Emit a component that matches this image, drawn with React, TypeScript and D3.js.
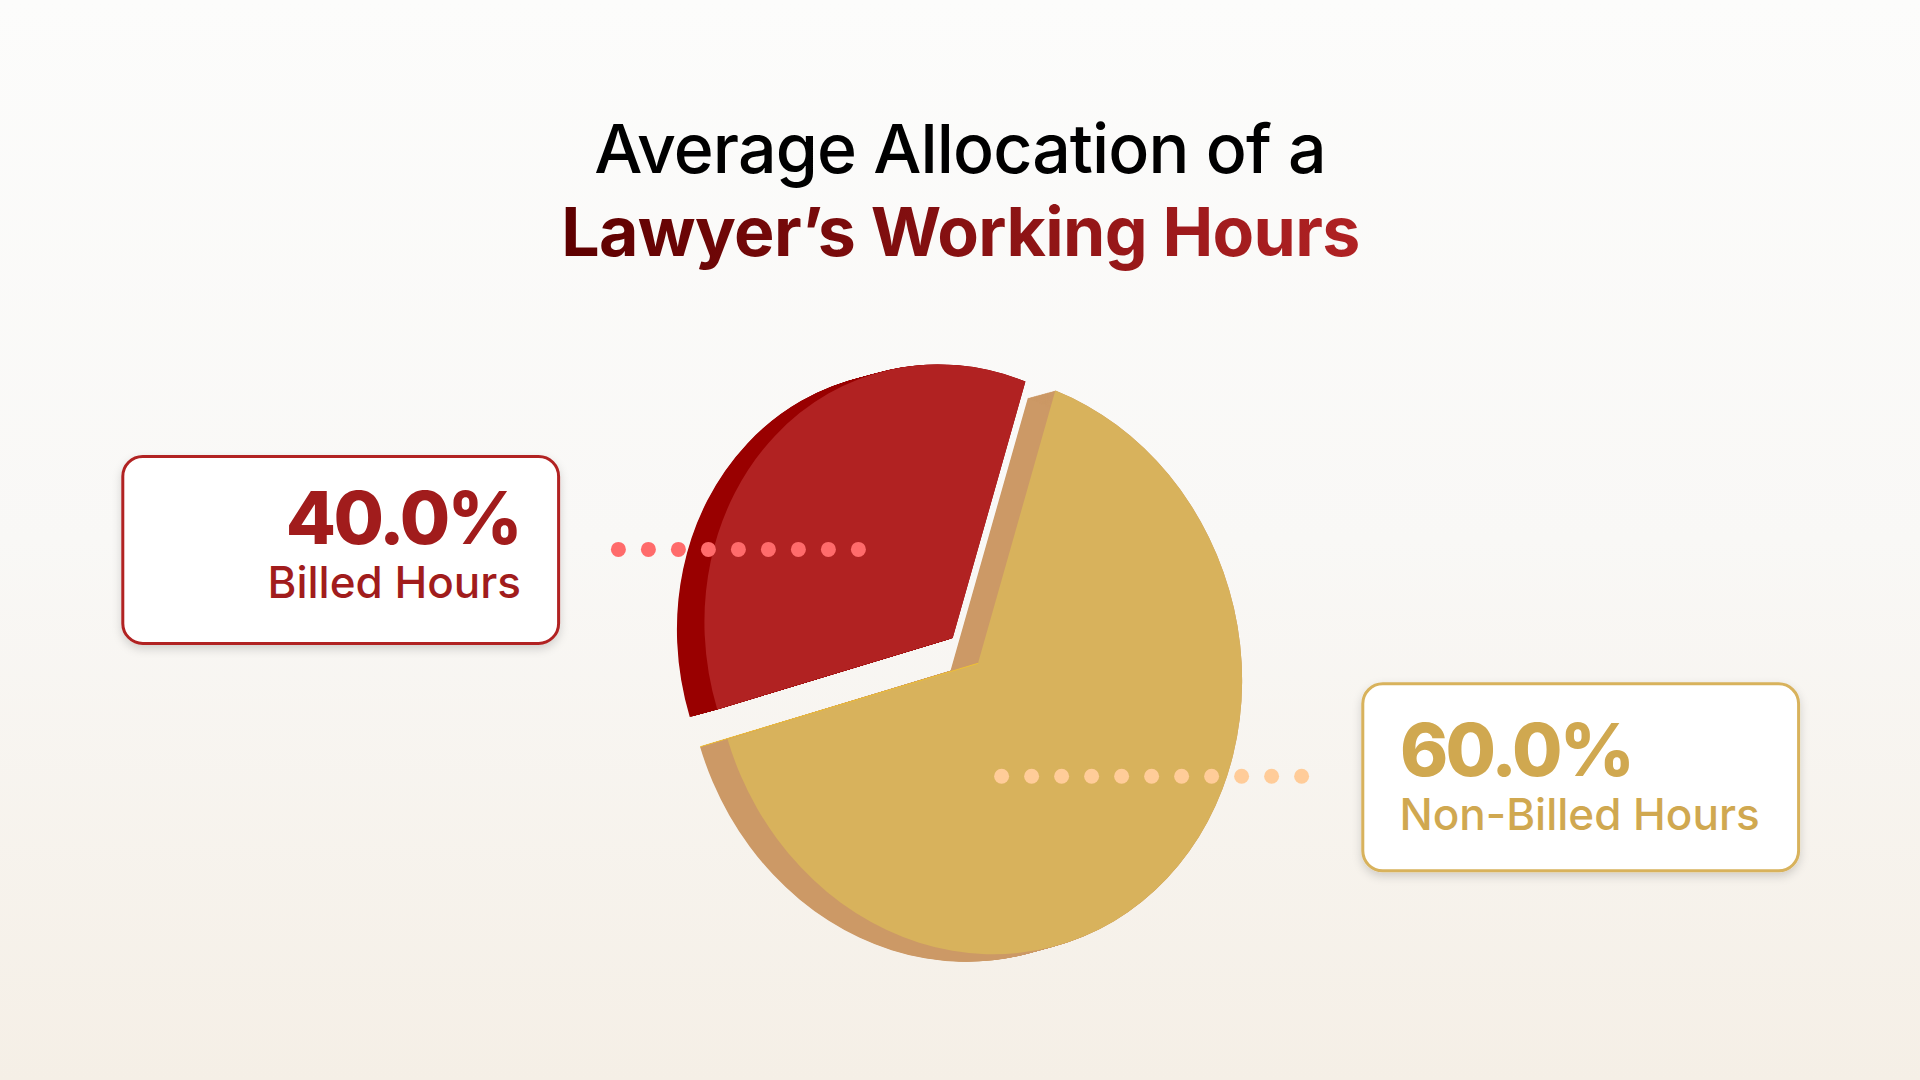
import * as d3 from 'd3';

const categories = ['Billed Hours', 'Non-Billed Hours'];
const shares = [40, 60];
const shareLabels = ['40.0%', '60.0%'];
const topColors = ['#b12222', '#d8b25c'];
const sideColors = ['#990000', '#cc9966'];
const dotColors = ['#ff6b6b', '#ffcc99'];
const dotCounts = [9, 11];
const textColors = ['#a11c1c', '#d0a850'];
const borderColors = ['#b12222', '#d8b25c'];

const width = 1920;
const height = 1080;

// the pie is tilted, so a unit circle goes through this matrix
const R = 100;
const tilt = [264 / R, 8.15 / R, 8.15 / R, 290.9 / R];
const goldCenter = [978, 663.3];
const redCenter = [952.7, 638];
const centers = [redCenter, goldCenter];
const sliceScale = [0.94, 1];
const depth = [-27.5, 7.5];
const depthSteps = d3.range(0, 1.001, 1 / 40);

// slices look narrower/wider than their share because of the tilt
const deg = (d: number) => (d * Math.PI) / 180;

export default function App() {
  const arcs = d3.pie<number>().sort(null)(shares);
  const angle = d3
    .scaleLinear()
    .domain([0, arcs[0].endAngle, 2 * Math.PI])
    .range([deg(-106.74), deg(18.8), deg(253.26)]);

  const slicePath = (i: number) =>
    d3.arc<any>()({
      innerRadius: 0,
      outerRadius: R * sliceScale[i],
      startAngle: angle(arcs[i].startAngle),
      endAngle: angle(arcs[i].endAngle),
    }) as string;

  const matrix = (i: number, dx = 0, dy = 0) =>
    `matrix(${tilt.join(' ')} ${centers[i][0] + dx} ${centers[i][1] + dy})`;

  // side wall: the slice swept along the depth vector
  const side = (i: number) =>
    depthSteps.map((t) => (
      <path
        key={t}
        d={slicePath(i)}
        transform={matrix(i, depth[0] * t, depth[1] * t)}
        fill={sideColors[i]}
      />
    ));

  // end of the gold radius, for the thin bright seam along that edge
  const seamAngle = angle(arcs[1].endAngle);
  const seamX = R * Math.sin(seamAngle);
  const seamY = -R * Math.cos(seamAngle);
  const seamEnd = [
    goldCenter[0] + tilt[0] * seamX + tilt[2] * seamY + depth[0],
    goldCenter[1] + tilt[1] * seamX + tilt[3] * seamY + depth[1],
  ];

  const dotX = [
    d3.scaleLinear().domain([0, 1]).range([618.4, 648.4]),
    d3.scaleLinear().domain([0, 1]).range([1001.6, 1031.6]),
  ];
  const dotY = [549.4, 776.3];

  const cards = [
    { x: 122.8, y: 456.4, textX: 521, anchor: 'end', bigY: 544, smallY: 597.5, bigX: 520 },
    { x: 1362.8, y: 683.8, textX: 1399.5, anchor: 'start', bigY: 776, smallY: 830, bigX: 1400 },
  ];

  return (
    <svg
      width={width}
      height={height}
      style={{ position: 'absolute', left: 0, top: 0, fontFamily: 'Inter' }}
    >
      <defs>
        <linearGradient id="bg" x1="0" x2="0" y1="0" y2="1">
          <stop offset="0" stopColor="#fcfcfb" />
          <stop offset="0.5" stopColor="#f9f8f6" />
          <stop offset="1" stopColor="#f5efe6" />
        </linearGradient>
        <linearGradient id="titleFill" gradientUnits="userSpaceOnUse" x1="564" x2="1360" y1="0" y2="0">
          <stop offset="0" stopColor="#5e0000" />
          <stop offset="1" stopColor="#b02224" />
        </linearGradient>
        <filter id="cardShadow" x="-10%" y="-15%" width="120%" height="135%">
          <feDropShadow dx="0" dy="4" stdDeviation="5" floodColor="#000" floodOpacity="0.16" />
        </filter>
      </defs>
      <rect width={width} height={height} fill="url(#bg)" />

      <text x={960} y={173} textAnchor="middle" fontSize={68} fontWeight={500} letterSpacing={-0.9} fill="#000">
        Average Allocation of a
      </text>
      <text x={960.5} y={256} textAnchor="middle" fontSize={68} fontWeight={700} letterSpacing={-0.65} fill="url(#titleFill)">
        Lawyer’s Working Hours
      </text>

      {/* gold slice */}
      {side(1)}
      <path d={slicePath(1)} transform={matrix(1)} fill={topColors[1]} />
      <line
        x1={goldCenter[0]}
        y1={goldCenter[1]}
        x2={seamEnd[0]}
        y2={seamEnd[1]}
        stroke="#f5c62a"
        strokeWidth={0.8}
      />

      {/* red slice */}
      {side(0)}
      <path d={slicePath(0)} transform={matrix(0)} fill={topColors[0]} />

      {categories.map((name, i) => (
        <g key={name}>
          {d3.range(dotCounts[i]).map((k) => (
            <circle key={k} cx={dotX[i](k)} cy={dotY[i]} r={7.5} fill={dotColors[i]} />
          ))}
          <rect
            x={cards[i].x}
            y={cards[i].y}
            width={435.8}
            height={187}
            rx={20}
            fill="#fff"
            stroke={borderColors[i]}
            strokeWidth={3}
            filter="url(#cardShadow)"
          />
          <text
            x={cards[i].bigX}
            y={cards[i].bigY}
            textAnchor={cards[i].anchor}
            fontSize={73}
            fontWeight={800}
            letterSpacing={-2.7}
            fill={textColors[i]}
          >
            {shareLabels[i]}
          </text>
          <text
            x={cards[i].textX}
            y={cards[i].smallY}
            textAnchor={cards[i].anchor}
            fontSize={44}
            fontWeight={500}
            fill={textColors[i]}
          >
            {name}
          </text>
        </g>
      ))}
    </svg>
  );
}
